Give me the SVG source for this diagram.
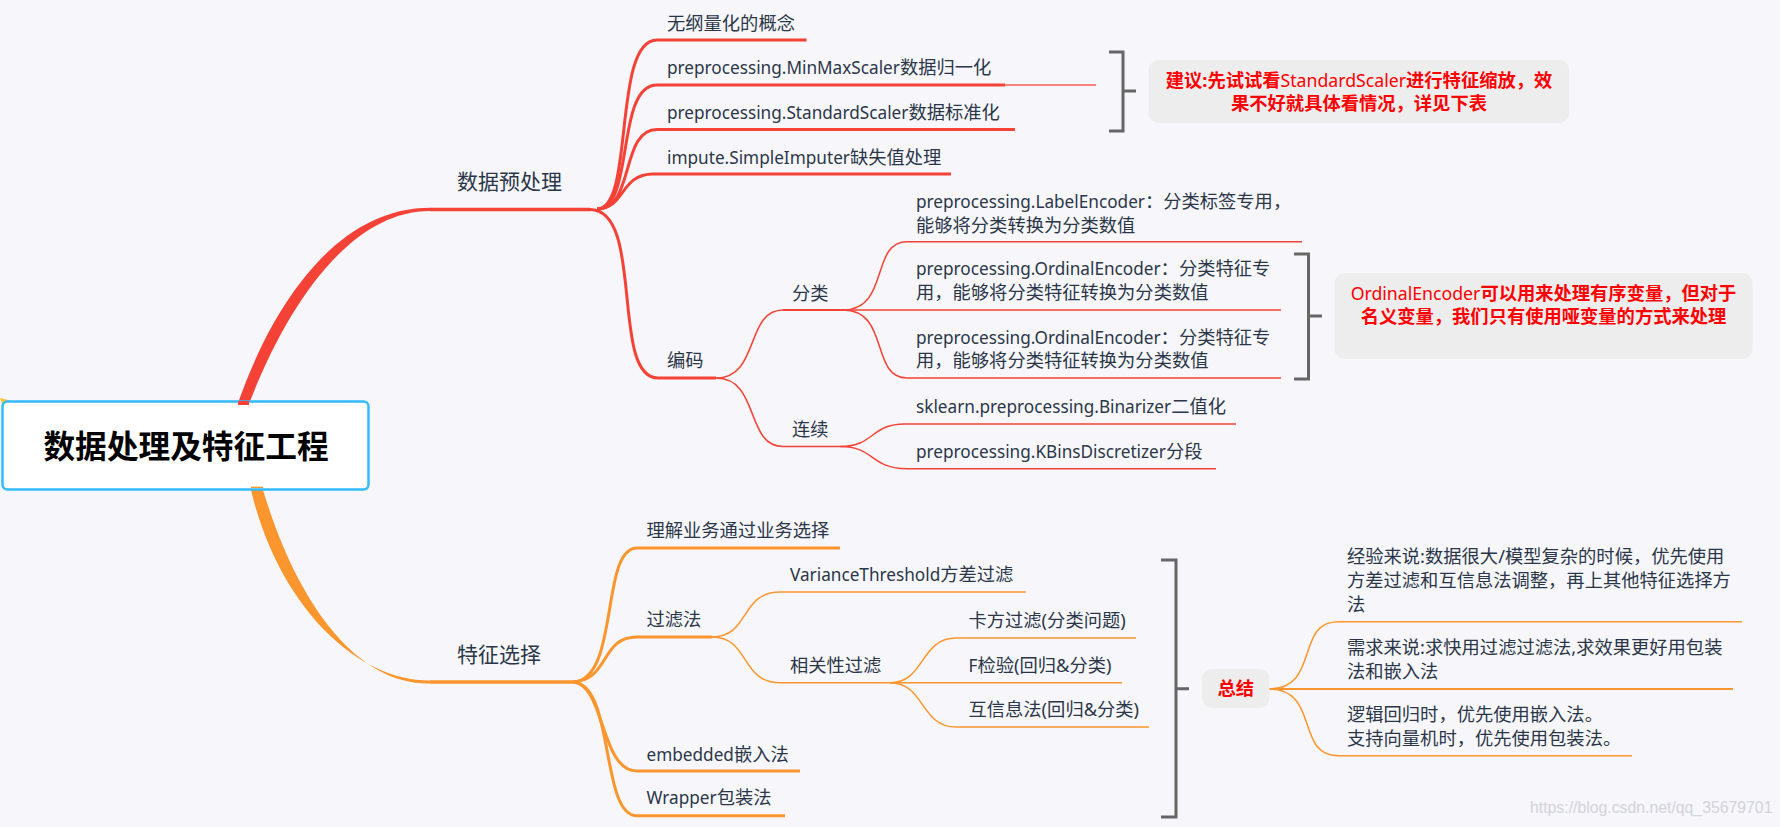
<svg xmlns="http://www.w3.org/2000/svg" width="1780" height="827" viewBox="0 0 1780 827">
<style>
text{font-family:"Noto Sans","Noto Sans CJK SC",sans-serif;font-size:18.3px;fill:#2b3648}
.e{font-size:17.2px}
.c{text-anchor:middle}
.l2{font-size:21px}
.root{font-size:31.700px;font-weight:700;fill:#000;font-family:"Noto Sans CJK SC",sans-serif}
.red{fill:#f00;font-weight:700}
.red tspan.n{font-weight:400;font-size:17.700px}
.note{fill:#ededed}
.r,.o,.b{fill:none}
.r{stroke:#f44336}
.o{stroke:#fb962e}
.b{stroke:#666;stroke-width:3}
.t3{stroke-width:3.500}
.t2{stroke-width:3}
.t15{stroke-width:2}
.t1{stroke-width:1.500}
.wm{fill:#d3d3da;font-family:"Liberation Sans",sans-serif;font-size:15.800px}
</style>
<rect width="1780" height="827" fill="#f6f6fb"/>
<g id="connectors">
<path d="M0 398L20 403L3 406Z" fill="#fbc02d"/>
<path d="M238 403C275 298 340 207.800 430 207.800L430 211C350 211 287 305 249 404Z" fill="#f44336"/>
<path class="r t3" d="M430 209.500H590"/>
<path class="r t2" d="M597 209C635 209 612 40 657 40H806.500"/>
<path class="r t2" d="M597 209C635 209 615 85 657 85H1005"/>
<path class="r t1" d="M1005 85H1096" stroke-opacity=".85"/>
<path class="r t2" d="M597 209C635 209 620 129.500 657 129.500H1015"/>
<path class="r t2" d="M597 209C625 209 620 174 653 174H951"/>
<path class="r t2" d="M590 209.500C645 209.500 610 378 658 378H716"/>
<path class="r t1" d="M716 378C760 378 745 310 783 310"/>
<path class="r t15" d="M783 310H843"/>
<path class="r t1" d="M716 378C760 378 745 446.500 783 446.500H840"/>
<path class="r t1" d="M843 310C890 310 870 241.700 907 241.700H1302"/>
<path class="r t1" d="M843 310H1281"/>
<path class="r t1" d="M843 310C890 310 870 378 907 378H1281"/>
<path class="r t1" d="M840 446.500C875 446.500 870 424 905 424H1236"/>
<path class="r t1" d="M840 446.500C875 446.500 870 468.700 907 468.700H1216"/>
<path d="M251 490C277 600 352 680.500 430 680.500L430 683.500C355 685 296 600 263 490Z" fill="#fb962e"/>
<path class="o t3" d="M430 682H573"/>
<path class="o t2" d="M573 682C620 680 600 548 637 548H840"/>
<path class="o t2" d="M573 682C610 680 600 637 637 637H712"/>
<path class="o t2" d="M573 682C605 684 600 771 637 771H800"/>
<path class="o t2" d="M573 682C615 684 600 815.700 637 815.700H785"/>
<path class="o t1" d="M712 637C750 637 740 592 780 592H1026"/>
<path class="o t1" d="M712 637C750 637 740 682.700 780 682.700H890"/>
<path class="o t1" d="M890 682.700C925 682.700 920 638 956 638H1136"/>
<path class="o t1" d="M890 682.700H1122"/>
<path class="o t1" d="M890 682.700C925 682.700 920 727 956 727H1149"/>
<path class="o t1" d="M1269 689C1320 689 1295 621.700 1338 621.700H1742"/>
<path class="o t15" d="M1269 689H1733"/>
<path class="o t1" d="M1269 689C1320 689 1295 755.700 1338 755.700H1632"/>
<path class="b" d="M1109 52H1123V131H1109M1123 91H1136"/>
<path class="b" d="M1294 254H1308.500V379H1294M1308.500 316H1322"/>
<path class="b" d="M1161 560H1176V817H1161M1176 688.700H1189"/>
</g>
<g id="root"><path d="M251 486.700H263V489H251Z" fill="#fb962e"/><rect x="2.500" y="401.500" width="366" height="88" rx="5" fill="#fff" stroke="#33bbff" stroke-width="2.500"/><path d="M238 401H249V405H238Z" fill="#f44336"/><path d="M251 486.700H263V488H251Z" fill="#fb962e"/><text class="root c" x="186" y="458">数据处理及特征工程</text></g>
<g id="n1"><text class="l2" x="457" y="189">数据预处理</text></g>
<g id="n1-1"><text x="667" y="30">无纲量化的概念</text></g>
<g id="n1-2"><text x="667" y="74"><tspan class="e">preprocessing.MinMaxScaler</tspan>数据归一化</text></g>
<g id="n1-3"><text x="667" y="119"><tspan class="e">preprocessing.StandardScaler</tspan>数据标准化</text></g>
<g id="n1-4"><text x="667" y="164"><tspan class="e">impute.SimpleImputer</tspan>缺失值处理</text></g>
<g id="n1-5"><text x="667" y="367">编码</text></g>
<g id="n1-5-1"><text x="792" y="300">分类</text></g>
<g id="n1-5-2"><text x="792" y="436">连续</text></g>
<g id="leaf1"><text x="916" y="208"><tspan class="e">preprocessing.LabelEncoder</tspan>：分类标签专用，</text><text x="916" y="232">能够将分类转换为分类数值</text></g>
<g id="leaf2"><text x="916" y="275"><tspan class="e">preprocessing.OrdinalEncoder</tspan>：分类特征专</text><text x="916" y="299">用，能够将分类特征转换为分类数值</text></g>
<g id="leaf3"><text x="916" y="344"><tspan class="e">preprocessing.OrdinalEncoder</tspan>：分类特征专</text><text x="916" y="367">用，能够将分类特征转换为分类数值</text></g>
<g id="leaf4"><text x="916" y="413"><tspan class="e">sklearn.preprocessing.Binarizer</tspan>二值化</text></g>
<g id="leaf5"><text x="916" y="458"><tspan class="e">preprocessing.KBinsDiscretizer</tspan>分段</text></g>
<g id="note1"><rect class="note" x="1148.500" y="60" width="420.500" height="63" rx="10"/><text class="red c" x="1359" y="87">建议:先试试看<tspan class="n">StandardScaler</tspan>进行特征缩放，效</text><text class="red c" x="1359" y="110">果不好就具体看情况，详见下表</text></g>
<g id="note2"><rect class="note" x="1334.500" y="273" width="418" height="86" rx="10"/><text class="red c" x="1543.500" y="300"><tspan class="n">OrdinalEncoder</tspan>可以用来处理有序变量，但对于</text><text class="red c" x="1543.500" y="323">名义变量，我们只有使用哑变量的方式来处理</text></g>
<g id="n2"><text class="l2" x="457" y="662">特征选择</text></g>
<g id="n2-1"><text x="646.500" y="537">理解业务通过业务选择</text></g>
<g id="n2-2"><text x="646.500" y="626">过滤法</text></g>
<g id="n2-3"><text x="646.500" y="761"><tspan class="e">embedded</tspan>嵌入法</text></g>
<g id="n2-4"><text x="646.500" y="804"><tspan class="e">Wrapper</tspan>包装法</text></g>
<g id="n2-2-1"><text x="790" y="581"><tspan class="e">VarianceThreshold</tspan>方差过滤</text></g>
<g id="n2-2-2"><text x="790" y="672">相关性过滤</text></g>
<g id="n2-2-2-1"><text x="968.500" y="627">卡方过滤(分类问题)</text></g>
<g id="n2-2-2-2"><text x="968.500" y="672"><tspan class="e">F</tspan>检验(回归&amp;分类)</text></g>
<g id="n2-2-2-3"><text x="968.500" y="716">互信息法(回归&amp;分类)</text></g>
<g id="sum"><rect class="note" x="1202" y="669" width="67.500" height="39" rx="10"/><text class="red c" x="1235.700" y="695">总结</text></g>
<g id="s1"><text x="1347" y="563">经验来说:数据很大/模型复杂的时候，优先使用</text><text x="1347" y="587">方差过滤和互信息法调整，再上其他特征选择方</text><text x="1347" y="611">法</text></g>
<g id="s2"><text x="1347" y="654">需求来说:求快用过滤过滤法,求效果更好用包装</text><text x="1347" y="678">法和嵌入法</text></g>
<g id="s3"><text x="1347" y="721">逻辑回归时，优先使用嵌入法。</text><text x="1347" y="745">支持向量机时，优先使用包装法。</text></g>
<text class="wm" x="1530" y="813">https://blog.csdn.net/qq_35679701</text>
</svg>
